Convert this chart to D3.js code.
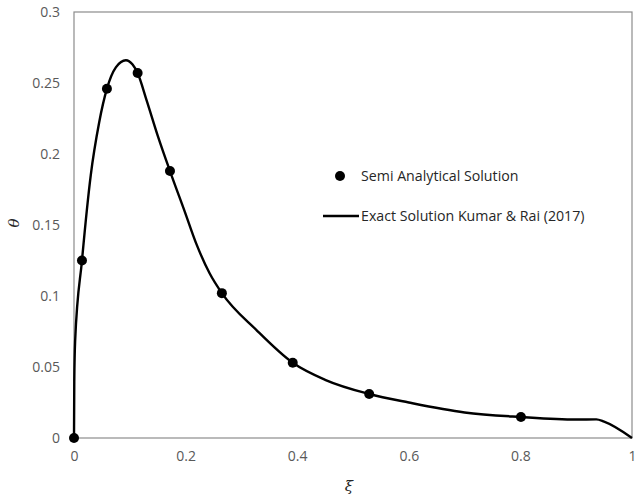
<!DOCTYPE html>
<meta charset="utf-8">
<style>
body { margin: 0; background: #fff; }
.tick text { font: 14px "Open Sans", sans-serif; fill: #595959; }
.legend text { font: 14.2px "Open Sans", sans-serif; fill: #262626; }
.title { font: italic 15px "DejaVu Serif", serif; fill: #262626; }
</style>
<svg width="638" height="497"></svg>
<script src="https://d3js.org/d3.v7.min.js"></script>
<script>

// semi analytical solution (dots)
var semiXi = [0, 0.0143, 0.059, 0.114, 0.172, 0.265, 0.392, 0.529, 0.801];
var semiTheta = [0, 0.125, 0.246, 0.257, 0.188, 0.102, 0.053, 0.031, 0.0148];

// exact solution Kumar & Rai (2017) (line)
var exactXi = [0, 0.0005, 0.002, 0.0143, 0.03, 0.045, 0.059, 0.075, 0.093, 0.105, 0.114,
  0.13, 0.15, 0.172, 0.198, 0.22, 0.243, 0.265, 0.327, 0.392, 0.45, 0.529, 0.6,
  0.7, 0.801, 0.9, 0.936, 0.95, 1];
var exactTheta = [0, 0.04, 0.068, 0.125, 0.185, 0.222, 0.246, 0.261, 0.266, 0.263, 0.257,
  0.238, 0.213, 0.188, 0.160, 0.136, 0.116, 0.102, 0.076, 0.053, 0.041, 0.031, 0.025,
  0.018, 0.0148, 0.013, 0.0131, 0.0115, 0];

var xTicks = [0, 0.2, 0.4, 0.6, 0.8, 1];
var yTicks = [0, 0.05, 0.1, 0.15, 0.2, 0.25, 0.3];

var svg = d3.select("svg"),
    mLeft = 74, mRight = 632, mTop = 12, mBottom = 438;

var x = d3.scaleLinear().domain([0, 1]).range([mLeft, mRight]);
var y = d3.scaleLinear().domain([0, 0.3]).range([mBottom, mTop]);

// plot border
svg.append("rect")
    .attr("x", mLeft).attr("y", mTop)
    .attr("width", mRight - mLeft).attr("height", mBottom - mTop)
    .attr("fill", "none").attr("stroke", "#8c8c8c").attr("stroke-width", 1.2);

var xAxis = svg.append("g")
    .attr("transform", "translate(0," + mBottom + ")")
    .call(d3.axisBottom(x).tickValues(xTicks).tickSize(0).tickPadding(13)
      .tickFormat(function(d) { return String(d); }));
xAxis.select(".domain").remove();

var yAxis = svg.append("g")
    .attr("transform", "translate(" + mLeft + ",0)")
    .call(d3.axisLeft(y).tickValues(yTicks).tickSize(0).tickPadding(14)
      .tickFormat(function(d) { return String(d); }));
yAxis.select(".domain").remove();

var exact = exactXi.map(function(d, i) { return [d, exactTheta[i]]; });
var semi = semiXi.map(function(d, i) { return [d, semiTheta[i]]; });

var line = d3.line()
    .x(function(d) { return x(d[0]); })
    .y(function(d) { return y(d[1]); })
    .curve(d3.curveMonotoneX);

svg.append("path")
    .datum(exact)
    .attr("d", line)
    .attr("fill", "none")
    .attr("stroke", "#000")
    .attr("stroke-width", 2.4);

svg.selectAll(".dot")
    .data(semi)
    .enter().append("circle")
    .attr("class", "dot")
    .attr("cx", function(d) { return x(d[0]); })
    .attr("cy", function(d) { return y(d[1]); })
    .attr("r", 5)
    .attr("fill", "#000");

// legend
var legend = svg.append("g").attr("class", "legend");
legend.append("circle").attr("cx", 340).attr("cy", 176).attr("r", 5).attr("fill", "#000");
legend.append("text").attr("x", 361).attr("y", 181).text("Semi Analytical Solution");
legend.append("line").attr("x1", 323).attr("x2", 359).attr("y1", 216).attr("y2", 216)
    .attr("stroke", "#000").attr("stroke-width", 2.4);
legend.append("text").attr("x", 361).attr("y", 221).text("Exact Solution Kumar & Rai (2017)");

// axis titles
svg.append("text").attr("class", "title")
    .attr("x", 349).attr("y", 491).attr("text-anchor", "middle").text("ξ");
svg.append("text").attr("class", "title")
    .attr("transform", "translate(19,223) rotate(-90)")
    .attr("text-anchor", "middle").text("θ");

</script>
